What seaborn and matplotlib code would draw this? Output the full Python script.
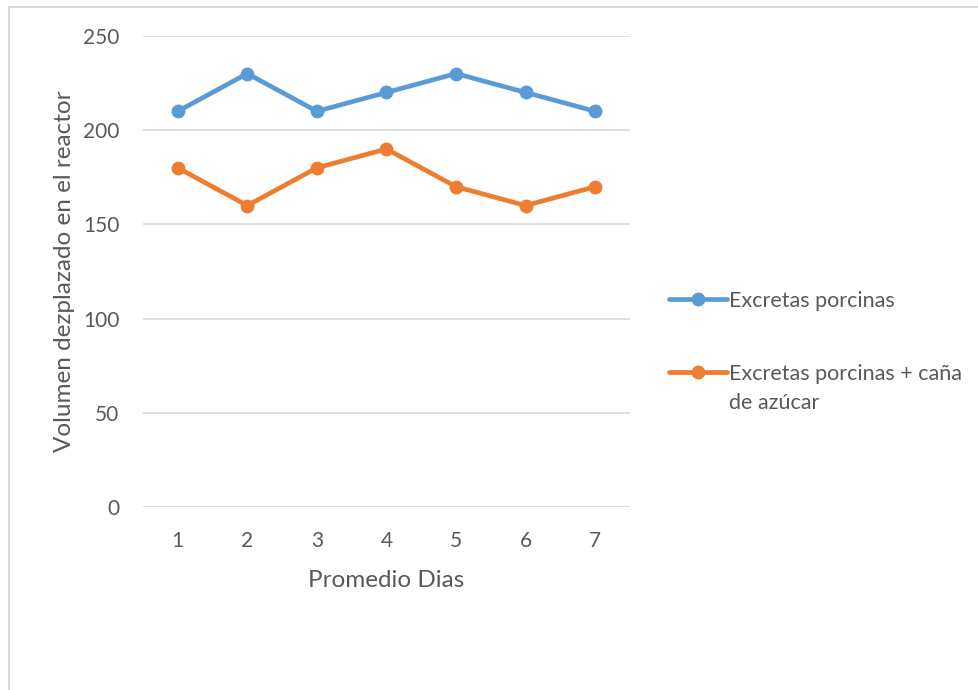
import matplotlib.pyplot as plt
import pandas as pd
import seaborn as sns
from matplotlib.patches import Rectangle

# Data
dias = [1, 2, 3, 4, 5, 6, 7]
excretas = [210, 230, 210, 220, 230, 220, 210]
excretas_cana = [180, 160, 180, 190, 170, 160, 170]
serie_1 = 'Excretas porcinas'
serie_2 = 'Excretas porcinas + caña'
serie_2_cont = 'de azúcar'

df = pd.DataFrame({
    'dia': dias * 2,
    'volumen': excretas + excretas_cana,
    'serie': [serie_1] * len(dias) + [serie_2] * len(dias),
})

sns.set_style('white')
plt.rcParams['font.family'] = ['Lato', 'DejaVu Sans']
text_color = '#595959'

fig = plt.figure(figsize=(9.79, 6.90), dpi=100)
ax = fig.add_axes([0.146, 0.265, 0.4975, 0.683])

sns.lineplot(data=df, x='dia', y='volumen', hue='serie', marker='o',
             palette=['#5B9BD5', '#ED7D31'], linewidth=3.4, markersize=10,
             markeredgewidth=0, ax=ax)

ax.set_xlim(0.5, 7.5)
ax.set_ylim(0, 250)
ax.set_xticks(dias)
ax.set_yticks([0, 50, 100, 150, 200, 250])
ax.yaxis.grid(True, color='#D9D9D9', linewidth=1.2)
ax.xaxis.grid(False)
for s in ax.spines.values():
    s.set_visible(False)
ax.tick_params(axis='both', length=0, labelsize=15, labelcolor=text_color)
ax.tick_params(axis='x', pad=17)
ax.tick_params(axis='y', pad=17)

ax.set_xlabel('Promedio Dias', fontsize=17.5, color=text_color, labelpad=14)
ax.set_ylabel('Volumen dezplazado en el reactor', fontsize=17.5, color=text_color, labelpad=6)

leg = ax.legend(loc='upper left', bbox_to_anchor=(1.04, 0.5), frameon=False,
                fontsize=15.5, labelcolor=text_color, handlelength=2.7,
                handletextpad=0.1, labelspacing=2.45)

# second line of the orange legend label
fig.canvas.draw()
bb = leg.get_texts()[1].get_window_extent().transformed(fig.transFigure.inverted())
fig.text(bb.x0, bb.y0 - 0.042, serie_2_cont, fontsize=15.5, color=text_color,
         ha='left', va='bottom')

# chart border (Excel-like frame)
fig.patches.append(Rectangle((9 / 979, -0.1), 1.2, 1 - 7 / 690 + 0.1,
                             transform=fig.transFigure, fill=False,
                             edgecolor='#D9D9D9', linewidth=1.5))

fig.savefig('out.png')
